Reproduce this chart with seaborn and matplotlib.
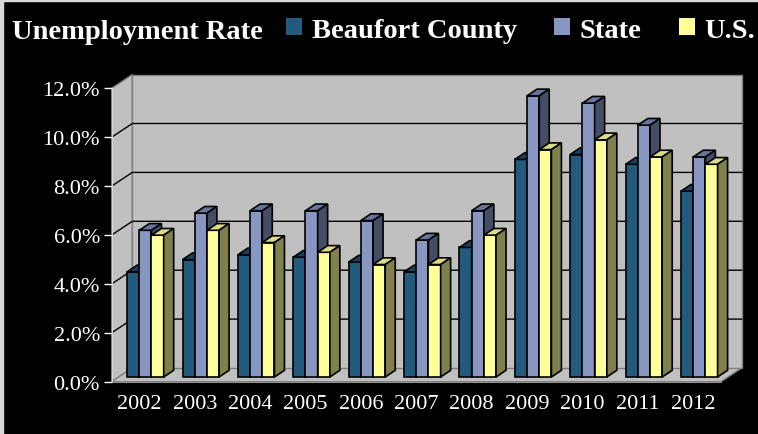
import numpy as np
import pandas as pd
import matplotlib
matplotlib.use("Agg")
import matplotlib.pyplot as plt
import seaborn as sns
from matplotlib.patches import Polygon, Patch, Rectangle
from matplotlib.ticker import PercentFormatter

# data (percent)
years = ["2002", "2003", "2004", "2005", "2006", "2007", "2008", "2009", "2010", "2011", "2012"]
beaufort = [4.3, 4.8, 5.0, 4.9, 4.7, 4.3, 5.3, 8.9, 9.1, 8.7, 7.6]
state = [6.0, 6.7, 6.8, 6.8, 6.4, 5.6, 6.8, 11.5, 11.2, 10.3, 9.0]
us = [5.8, 6.0, 5.5, 5.1, 4.6, 4.6, 5.8, 9.3, 9.7, 9.0, 8.7]
series = ["Beaufort County", "State", "U.S."]

front_colors = ["#225B7E", "#8797C2", "#FFFF99"]
top_colors = ["#18425C", "#66759C", "#DCDC84"]
side_colors = ["#112E40", "#454D64", "#80804C"]

df = pd.DataFrame({
    "year": years * 3,
    "series": np.repeat(series, len(years)),
    "rate": beaufort + state + us,
})

plt.rcParams["font.family"] = ["Liberation Serif", "DejaVu Serif"]

W, H = 758, 435
fig = plt.figure(figsize=(W / 100, H / 100), dpi=100, facecolor="black")
ax = fig.add_axes([111.7 / W, (H - 382.7) / H, 609.3 / W, 293.4 / H])
ax.set_facecolor("none")

sns.barplot(data=df, x="year", y="rate", hue="series", palette=front_colors,
            width=0.66, saturation=1, edgecolor="black", linewidth=1.2,
            legend=False, ax=ax)
ax.set_xlim(-0.5, len(years) - 0.5)
ax.set_ylim(0, 12)

# pixel offsets -> data units for the fake 3D look
px = len(years) / 609.3
py = 12 / 293.4
bar_dx, bar_dy = 6 * px, 4.7 * py
dep_dx, dep_dy = 10 * px, 6.7 * py
wall_dx, wall_dy = 20.6 * px, 13.7 * py

x0, x1 = -0.5, len(years) - 0.5
wall = dict(fc="#C0C0C0", ec="#808080", lw=1, zorder=0.5, clip_on=False)
ax.add_patch(Polygon([(x0, 0), (x0, 12), (x0 + wall_dx, 12 + wall_dy), (x0 + wall_dx, wall_dy)], **wall))
ax.add_patch(Polygon([(x0, 0), (x1, 0), (x1 + wall_dx, wall_dy), (x0 + wall_dx, wall_dy)], **wall))
ax.add_patch(Rectangle((x0 + wall_dx, wall_dy), x1 - x0, 12, **wall))
for y in range(2, 12, 2):
    ax.plot([x0, x0 + wall_dx, x1 + wall_dx], [y, y + wall_dy, y + wall_dy],
            color="black", lw=1, zorder=0.8, clip_on=False)

# push bars into the box and give them tops and sides
for h, cont in enumerate(ax.containers):
    for bar in cont:
        bar.set_x(bar.get_x() + bar_dx)
        bar.set_y(bar_dy)
        bar.set_zorder(3 + h)
        bx, bw = bar.get_x(), bar.get_width()
        top = bar_dy + bar.get_height()
        ax.add_patch(Polygon([(bx, top), (bx + bw, top), (bx + bw + dep_dx, top + dep_dy), (bx + dep_dx, top + dep_dy)],
                             fc=top_colors[h], ec="black", lw=1.2, zorder=3 + h, clip_on=False))
        ax.add_patch(Polygon([(bx + bw, bar_dy), (bx + bw, top), (bx + bw + dep_dx, top + dep_dy), (bx + bw + dep_dx, bar_dy + dep_dy)],
                             fc=side_colors[h], ec="black", lw=1.2, zorder=3 + h, clip_on=False))

for s in ["top", "right"]:
    ax.spines[s].set_visible(False)
ax.spines["left"].set_color("#D8D8D8")
ax.spines["bottom"].set_color("#909090")
ax.yaxis.set_major_formatter(PercentFormatter(decimals=1))
ax.set_yticks(range(0, 13, 2))
ax.tick_params(axis="y", colors="white", length=5.5, width=1, pad=3, labelsize=16)
ax.tick_params(axis="x", length=0, pad=9, labelsize=16, labelcolor="white")
ax.set_xlabel("")
ax.set_ylabel("")

fig.text(11.7 / W, 1 - 39 / H, "Unemployment Rate", color="white", fontsize=20.5,
         fontweight="bold", va="baseline")
handles = [Patch(facecolor=c, edgecolor="none") for c in front_colors]
fig.legend(handles, series, loc="center left", bbox_to_anchor=(286 / W, 1 - 31 / H),
           ncol=3, frameon=False, prop={"weight": "bold", "size": 20.5}, labelcolor="white",
           handlelength=0.56, handleheight=0.53, handletextpad=0.35, columnspacing=1.3,
           borderpad=0, borderaxespad=0)

# thin light frame on top and left edges
fig.add_artist(Rectangle((0, 1 - 2 / H), 1, 2 / H, transform=fig.transFigure, color="#D8D8D8"))
fig.add_artist(Rectangle((0, 0), 3 / W, 1, transform=fig.transFigure, color="#D8D8D8"))

fig.savefig("out.png", dpi=100, facecolor="black")
